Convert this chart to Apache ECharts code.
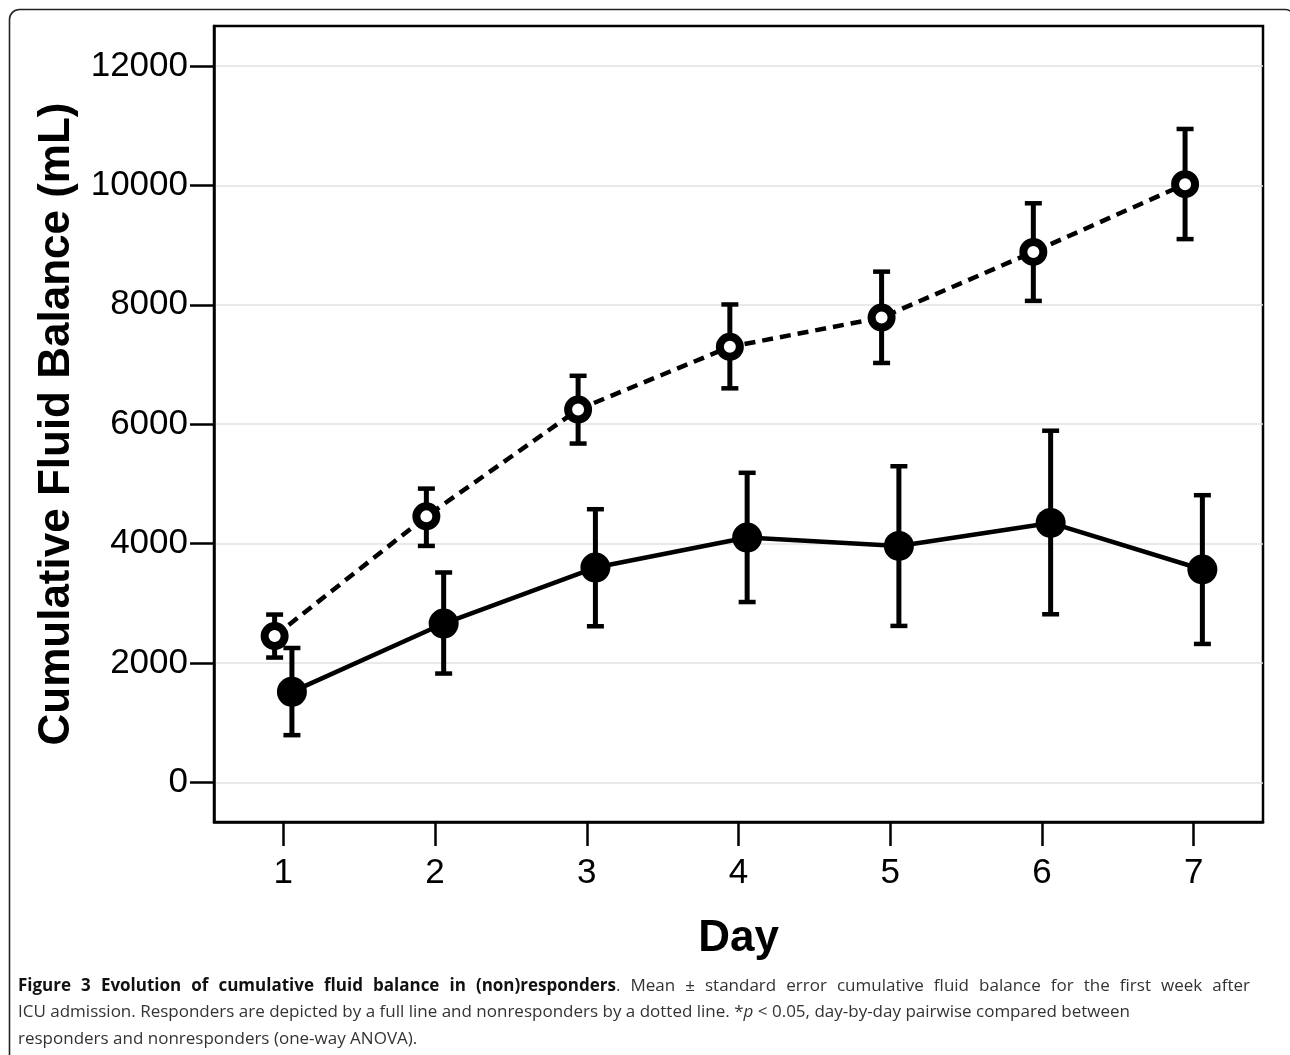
<!DOCTYPE html>
<html>
<head>
<meta charset="utf-8">
<script src="https://cdn.jsdelivr.net/npm/echarts@6/dist/echarts.min.js"></script>
<style>
html,body{margin:0;padding:0;background:#fff;}
#chart{width:1290px;height:1055px;}
</style>
</head>
<body>
<div id="chart"></div>
<script>
// ---- data ----
const days = [1, 2, 3, 4, 5, 6, 7];
const yTicks = [0, 2000, 4000, 6000, 8000, 10000, 12000];
// Nonresponders (open circles, dotted line)
const nonMean  = [2450, 4455, 6245, 7295, 7785, 8885, 10020];
const nonUpper = [2810, 4920, 6810, 8005, 8555, 9700, 10945];
const nonLower = [2090, 3960, 5675, 6600, 7025, 8065, 9100];
// Responders (filled circles, full line)
const respMean  = [1515, 2660, 3598, 4100, 3960, 4345, 3565];
const respUpper = [2250, 3515, 4575, 5185, 5295, 5890, 4810];
const respLower = [790, 1822, 2614, 3020, 2620, 2815, 2318];

// caption text
const captionBold = 'Figure 3 Evolution of cumulative fluid balance in (non)responders';
const captionLine1Rest = '. Mean ± standard error cumulative fluid balance for the first week after';
const captionLine2a = 'ICU admission. Responders are depicted by a full line and nonresponders by a dotted line. *';
const captionLine2p = 'p';
const captionLine2b = ' < 0.05, day-by-day pairwise compared between';
const captionLine3 = 'responders and nonresponders (one-way ANOVA).';

const dodge = 0.057;
const chart = echarts.init(document.getElementById('chart'));

function errRender(params, api) {
  const x = api.value(0), lo = api.value(1), hi = api.value(2);
  const a = api.coord([x, lo]), b = api.coord([x, hi]);
  const cw = 17;
  const st = {stroke: '#000', lineWidth: 5};
  const cs = {stroke: '#000', lineWidth: 4.5};
  return {type: 'group', children: [
    {type: 'line', shape: {x1: a[0], y1: a[1], x2: b[0], y2: b[1]}, style: st},
    {type: 'line', shape: {x1: a[0] - cw / 2, y1: a[1], x2: a[0] + cw / 2, y2: a[1]}, style: cs},
    {type: 'line', shape: {x1: b[0] - cw / 2, y1: b[1], x2: b[0] + cw / 2, y2: b[1]}, style: cs}
  ]};
}

const nonPts = days.map((d, i) => [d - dodge, nonMean[i]]);
const respPts = days.map((d, i) => [d + dodge, respMean[i]]);
const nonErr = days.map((d, i) => [d - dodge, nonLower[i], nonUpper[i]]);
const respErr = days.map((d, i) => [d + dodge, respLower[i], respUpper[i]]);

const font = '"Liberation Sans", Arial, sans-serif';
const capFamily = '"Open Sans", sans-serif';
const capSize = 17;
const capColor = '#333';
const boldColor = '#111';

// justified first caption line, laid out word by word
const cv = document.createElement('canvas').getContext('2d');
function measure(t, bold) {
  cv.font = (bold ? 'bold ' : '') + capSize + 'px ' + capFamily;
  return cv.measureText(t).width;
}
const tokens = [];
captionBold.split(' ').forEach(w => tokens.push([{t: w, b: true}]));
const restWords = captionLine1Rest.split(' ');
tokens[tokens.length - 1].push({t: restWords[0], b: false});
restWords.slice(1).forEach(w => tokens.push([{t: w, b: false}]));
const lineLeft = 18, lineRight = 1250;
const tokW = tokens.map(tok => tok.reduce((s, seg) => s + measure(seg.t, seg.b), 0));
const totalW = tokW.reduce((a, b) => a + b, 0);
const gap = (lineRight - lineLeft - totalW) / (tokens.length - 1);
const captionEls = [];
let cx = lineLeft;
tokens.forEach((tok, k) => {
  let sx = cx;
  tok.forEach(seg => {
    captionEls.push({type: 'text', x: sx, y: 986, silent: true,
      style: {text: seg.t, fontFamily: capFamily, fontSize: capSize, fontWeight: seg.b ? 'bold' : 'normal',
              fill: seg.b ? boldColor : capColor, verticalAlign: 'middle', align: 'left'}});
    sx += measure(seg.t, seg.b);
  });
  cx += tokW[k] + gap;
});
captionEls.push({type: 'text', x: lineLeft, y: 1012.5, silent: true,
  style: {text: '{r|' + captionLine2a + '}{i|' + captionLine2p + '}{r|' + captionLine2b + '}', verticalAlign: 'middle',
    rich: {r: {fontFamily: capFamily, fontSize: capSize, fill: capColor},
           i: {fontFamily: capFamily, fontSize: capSize, fontStyle: 'italic', fill: capColor}}}});
captionEls.push({type: 'text', x: lineLeft, y: 1039, silent: true,
  style: {text: captionLine3, fontFamily: capFamily, fontSize: capSize, fill: capColor, verticalAlign: 'middle'}});

chart.setOption({
  animation: false,
  backgroundColor: '#fff',
  grid: {left: 214, top: 26, right: 27, bottom: 233, show: true, borderColor: '#000', borderWidth: 2.5, containLabel: false},
  xAxis: {
    type: 'value', min: 0.5435, max: 7.4565,
    name: 'Day', nameLocation: 'middle', nameGap: 95,
    nameTextStyle: {fontFamily: font, fontWeight: 'bold', fontSize: 44, color: '#000'},
    axisLine: {show: true, onZero: false, lineStyle: {color: '#000', width: 2.5}},
    axisTick: {show: true, inside: false, length: 24, lineStyle: {color: '#000', width: 2.5}, customValues: days},
    axisLabel: {fontFamily: font, fontSize: 35, color: '#000', margin: 34, customValues: days,
                formatter: v => String(v)},
    splitLine: {show: false}
  },
  yAxis: {
    type: 'value', min: -665, max: 12670,
    name: 'Cumulative Fluid Balance (mL)', nameLocation: 'middle', nameGap: 135,
    nameTextStyle: {fontFamily: font, fontWeight: 'bold', fontSize: 44, color: '#000'},
    axisLine: {show: true, onZero: false, lineStyle: {color: '#000', width: 2.5}},
    axisTick: {show: true, inside: false, length: 24, lineStyle: {color: '#000', width: 2.5}, customValues: yTicks},
    axisLabel: {fontFamily: font, fontSize: 35, color: '#000', margin: 26, customValues: yTicks,
                formatter: v => String(v)},
    splitLine: {show: true, lineStyle: {color: '#e2e2e2', width: 1.5}}
  },
  series: [
    {type: 'custom', name: 'nonErr', renderItem: errRender, data: nonErr, z: 3, encode: {x: 0, y: [1, 2]}},
    {type: 'custom', name: 'respErr', renderItem: errRender, data: respErr, z: 3, encode: {x: 0, y: [1, 2]}},
    {type: 'line', name: 'Nonresponders', data: nonPts, z: 4,
     symbol: 'circle', symbolSize: 20,
     itemStyle: {color: '#fff', borderColor: '#000', borderWidth: 8},
     lineStyle: {color: '#000', width: 4.5, type: [11, 7]}},
    {type: 'line', name: 'Responders', data: respPts, z: 5,
     symbol: 'circle', symbolSize: 30,
     itemStyle: {color: '#000', borderColor: '#000', borderWidth: 0},
     lineStyle: {color: '#000', width: 4.5, type: 'solid'}}
  ],
  graphic: [
    {type: 'rect', silent: true, z: 0,
     shape: {x: 9.5, y: 9.5, width: 1285.5, height: 1100, r: 10},
     style: {fill: 'none', stroke: '#222', lineWidth: 1.6}}
  ].concat(captionEls)
});
</script>
</body>
</html>
